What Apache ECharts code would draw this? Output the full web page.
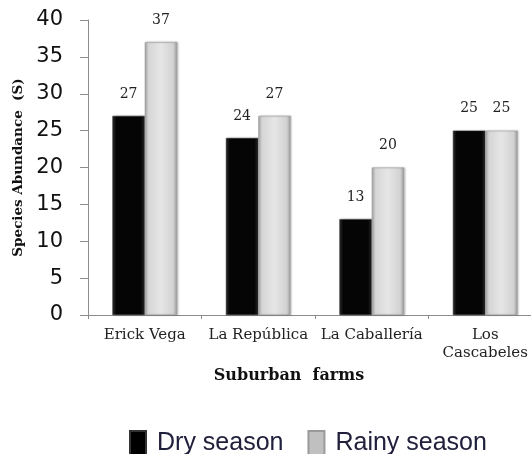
<!DOCTYPE html>
<html>
<head>
<meta charset="utf-8">
<script src="https://cdn.jsdelivr.net/npm/echarts@6/dist/echarts.min.js"></script>
<style>
html,body{margin:0;padding:0;background:#fff;}
#c{width:531px;height:454px;}
</style>
</head>
<body>
<div id="c"></div>
<script>
const categories = ['Erick Vega', 'La República', 'La Caballería', 'Los Cascabeles'];
const drySeason = [27, 24, 13, 25];
const rainySeason = [37, 27, 20, 25];
const seriesNames = ['Dry season', 'Rainy season'];

const serif = 'DejaVu Serif';
const chart = echarts.init(document.getElementById('c'), null, {renderer: 'canvas'});

const blackGrad = new echarts.graphic.LinearGradient(0, 0, 1, 0, [
  {offset: 0, color: '#2e2e2e'},
  {offset: 0.12, color: '#050505'},
  {offset: 0.88, color: '#050505'},
  {offset: 1, color: '#262626'}
]);
const grayGrad = new echarts.graphic.LinearGradient(0, 0, 1, 0, [
  {offset: 0, color: '#a9a9a9'},
  {offset: 0.12, color: '#d6d6d6'},
  {offset: 0.5, color: '#e6e6e6'},
  {offset: 0.88, color: '#d2d2d2'},
  {offset: 1, color: '#9a9a9a'}
]);

const labelStyle = {
  show: true,
  position: 'top',
  distance: 15,
  fontFamily: serif,
  fontSize: 14,
  color: '#222'
};

chart.setOption({
  animation: false,
  grid: {left: 88, top: 20, bottom: 139, right: -11, outerBoundsMode: 'none', containLabel: false},
  legend: {
    left: 129,
    top: 430,
    padding: 0,
    itemWidth: 16,
    itemHeight: 24,
    itemGap: 24,
    icon: 'rect',
    textStyle: {fontFamily: 'Liberation Sans', fontSize: 25, color: '#20203c', padding: [0, 0, 0, 6]},
    data: [
      {name: seriesNames[0], itemStyle: {color: '#000'}},
      {name: seriesNames[1], itemStyle: {color: '#c0c0c0'}}
    ]
  },
  xAxis: {
    type: 'category',
    data: categories,
    name: 'Suburban  farms',
    nameLocation: 'middle',
    nameGap: 53,
    nameTextStyle: {fontFamily: serif, fontWeight: 'bold', fontSize: 16, color: '#111', padding: [0, 52, 0, 0]},
    axisLine: {lineStyle: {color: '#8c8c8c', width: 1}},
    axisTick: {show: true, length: 4, lineStyle: {color: '#8c8c8c'}},
    axisLabel: {
      fontFamily: serif,
      fontSize: 15,
      color: '#222',
      margin: 11,
      lineHeight: 18,
      interval: 0,
      formatter: v => v === 'Los Cascabeles' ? 'Los\nCascabeles' : v
    }
  },
  yAxis: {
    type: 'value',
    min: 0,
    max: 40,
    interval: 5,
    name: 'Species Abundance  (S)',
    nameLocation: 'middle',
    nameGap: 60,
    nameTextStyle: {fontFamily: serif, fontWeight: 'bold', fontSize: 13.5, color: '#111'},
    axisLine: {show: true, lineStyle: {color: '#8c8c8c', width: 1}},
    axisTick: {show: true, length: 8, lineStyle: {color: '#8c8c8c'}},
    splitLine: {show: false},
    axisLabel: {fontFamily: 'DejaVu Sans', fontSize: 21, color: '#111', margin: 25}
  },
  series: [
    {
      name: seriesNames[0],
      type: 'bar',
      data: drySeason,
      barGap: '0%',
      barCategoryGap: '43%',
      itemStyle: {color: blackGrad, borderColor: '#333', borderWidth: 0.5, shadowColor: 'rgba(0,0,0,0.25)', shadowBlur: 2, shadowOffsetX: 1},
      label: labelStyle
    },
    {
      name: seriesNames[1],
      type: 'bar',
      data: rainySeason,
      barGap: '0%',
      barCategoryGap: '43%',
      itemStyle: {color: grayGrad, borderColor: '#9a9a9a', borderWidth: 0.5, shadowColor: 'rgba(0,0,0,0.25)', shadowBlur: 2, shadowOffsetX: 1},
      label: labelStyle
    }
  ]
});
</script>
</body>
</html>
